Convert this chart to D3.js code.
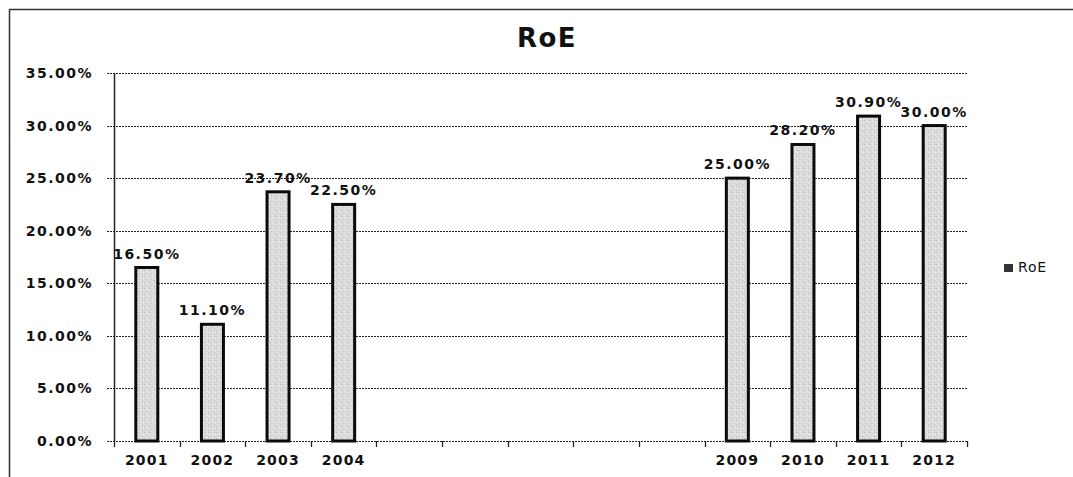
<!DOCTYPE html>
<html><head><meta charset="utf-8">
<script src="https://cdn.jsdelivr.net/npm/d3@7"></script>
<style>
html,body{margin:0;padding:0;background:#fff;}
svg{display:block;}
text{font-family:"DejaVu Sans",Verdana,sans-serif;}
</style></head>
<body>
<svg id="c" width="1073" height="477"></svg>
<script>
// ---- data ----
const categories = ["2001","2002","2003","2004","b1","b2","b3","b4","b5","2009","2010","2011","2012"];
const tickLabels = ["2001","2002","2003","2004","","","","","","2009","2010","2011","2012"];
const roeValues  = [16.5, 11.1, 23.7, 22.5, null, null, null, null, null, 25.0, 28.2, 30.9, 30.0];
const yTicks = [0, 5, 10, 15, 20, 25, 30, 35];
const seriesName = "RoE";
const chartTitle = "RoE";

const svg = d3.select("#c");
const W = 1073, H = 477;
const m = {left:114, right:1073-967, top:73, bottom:477-441};

// stipple pattern (deterministic)
const defs = svg.append("defs");
const pat = defs.append("pattern").attr("id","stip").attr("patternUnits","userSpaceOnUse")
  .attr("width",6).attr("height",6);
pat.append("rect").attr("width",6).attr("height",6).attr("fill","#dcdcdc");
[[0,0,"#b8b8b8"],[3,1,"#efefef"],[1,3,"#c4c4c4"],[4,4,"#bdbdbd"],[5,2,"#f2f2f2"],[2,5,"#eaeaea"],[4,0,"#c8c8c8"]]
  .forEach(([x,y,c])=>pat.append("rect").attr("x",x).attr("y",y).attr("width",1).attr("height",1).attr("fill",c));

// outer chart border
svg.append("rect").attr("x",9.5).attr("y",9.5).attr("width",1100).attr("height",500)
  .attr("fill","#fff").attr("stroke","#333").attr("stroke-width",1.5);

const x = d3.scaleBand().domain(categories).range([m.left, W-m.right]).padding(0);
const y = d3.scaleLinear().domain([0,35]).range([H-m.bottom, m.top]);

// gridlines (dotted) incl. small left tick extension
svg.append("g").selectAll("line").data(yTicks).join("line")
  .attr("x1", m.left-7).attr("x2", W-m.right)
  .attr("y1", d=>Math.round(y(d))+0.5).attr("y2", d=>Math.round(y(d))+0.5)
  .attr("stroke","#222").attr("stroke-width",1).attr("stroke-dasharray","2,1");

// y labels
svg.append("g").selectAll("text").data(yTicks).join("text")
  .attr("x", 93).attr("y", d=>y(d)+5)
  .attr("text-anchor","end").attr("font-size",14).attr("font-weight","bold")
  .attr("letter-spacing","1.5px").attr("fill","#111")
  .text(d=>d3.format(".2f")(d)+"%");

// y axis line
svg.append("line").attr("x1",m.left+0.5).attr("x2",m.left+0.5)
  .attr("y1",y(35)).attr("y2",y(0)).attr("stroke","#222").attr("stroke-width",1.5);

// x axis ticks at band boundaries
const bounds = categories.map(c=>x(c)).concat([x(categories[categories.length-1])+x.bandwidth()]);
svg.append("g").selectAll("line").data(bounds).join("line")
  .attr("x1",d=>Math.round(d)+0.5).attr("x2",d=>Math.round(d)+0.5)
  .attr("y1",y(0)).attr("y2",y(0)+6).attr("stroke","#222").attr("stroke-width",1.3);

// x labels
svg.append("g").selectAll("text").data(categories).join("text")
  .attr("x", d=>x(d)+x.bandwidth()/2).attr("y", 465)
  .attr("text-anchor","middle").attr("font-size",14).attr("font-weight","bold")
  .attr("letter-spacing","1.2px").attr("fill","#111")
  .text((d,i)=>tickLabels[i]);

// bars
const data = categories.map((c,i)=>({c, v:roeValues[i]})).filter(d=>d.v!=null);
const bw = 22;
svg.append("g").selectAll("rect").data(data).join("rect")
  .attr("x", d=>x(d.c)+x.bandwidth()/2-bw/2)
  .attr("y", d=>y(d.v))
  .attr("width", bw).attr("height", d=>y(0)-y(d.v))
  .attr("fill","url(#stip)").attr("stroke","#0a0a0a").attr("stroke-width",3);

// data labels
svg.append("g").selectAll("text").data(data).join("text")
  .attr("x", d=>x(d.c)+x.bandwidth()/2).attr("y", d=>y(d.v)-9)
  .attr("text-anchor","middle").attr("font-size",14).attr("font-weight","bold")
  .attr("letter-spacing","1.5px").attr("fill","#111")
  .text(d=>d3.format(".2f")(d.v)+"%");

// title
svg.append("text").attr("x",547).attr("y",47).attr("text-anchor","middle")
  .attr("font-size",26).attr("font-weight","bold").attr("letter-spacing","1.5px").attr("fill","#111")
  .text(chartTitle);

// legend
svg.append("rect").attr("x",1004).attr("y",264).attr("width",9).attr("height",8).attr("fill","#333");
svg.append("text").attr("x",1018).attr("y",272).attr("font-size",14)
  .attr("letter-spacing","0.8px").attr("fill","#111").text(seriesName);
</script>
</body></html>
